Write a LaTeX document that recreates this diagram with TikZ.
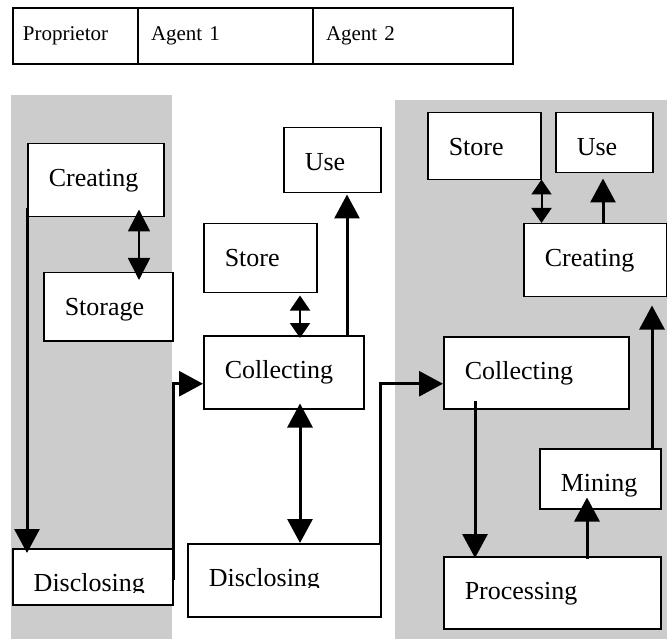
\documentclass[tikz,border=0pt]{standalone}
\usepackage{fontspec}
\setmainfont{Liberation Serif}
\usetikzlibrary{arrows.meta}
\definecolor{panel}{RGB}{204,204,204}
\tikzset{
  box/.style={draw, line width=1.5pt, fill=white, anchor=north west, inner xsep=21pt, inner ysep=0pt, align=left, text height=43pt, font=\fontsize{26}{30}\selectfont},
  hdr/.style={draw, line width=2pt, anchor=north west, inner ysep=0pt, align=left, text height=33pt, text depth=23pt, font=\fontsize{21}{25}\selectfont},
  big/.style={line width=3pt, -{Triangle[width=25pt,length=24pt]}},
  bigboth/.style={line width=3pt, {Triangle[width=25pt,length=24pt]}-{Triangle[width=25pt,length=24pt]}},
  thinboth/.style={line width=1.5pt, {Triangle[width=22pt,length=22pt]}-{Triangle[width=22pt,length=22pt]}},
  smallboth/.style={line width=2pt, {Triangle[width=20pt,length=15pt]}-{Triangle[width=20pt,length=15pt]}}
}
\begin{document}
\begin{tikzpicture}[x=1pt,y=-1pt]
\useasboundingbox (0,0) rectangle (667,639);
% panels
\fill[panel] (11,95) rectangle (172,639);
\fill[panel] (395,100) rectangle (667,639);
% header
\node[hdr, inner xsep=10pt, text width=105pt] (h1) at (12,7) {Proprietor};
\node[hdr, inner xsep=13pt, text width=149pt] (h2) at (137,7) {Agent 1};
\node[hdr, inner xsep=13pt, text width=174pt] (h3) at (312,7) {Agent 2};
% proprietor
\node[box, text width=94pt, text depth=30pt] (cP) at (27,143) {Creating};
\node[box, text width=87pt, text depth=25pt] (sP) at (43,272) {Storage};
\node[box, text width=118pt, text depth=13pt] (dP) at (12,548) {Disclosing};
% agent 1
\node[box, text width=55pt, text depth=22pt] (uA) at (283,127) {Use};
\node[box, text width=71pt, text depth=26pt] (sA) at (203,223) {Store};
\node[box, text width=118pt, text depth=30pt] (colA) at (203,335) {Collecting};
\node[box, text width=151pt, text depth=30pt] (dA) at (187,543) {Disclosing};
% text cut off at the foot of the two Disclosing boxes
\fill[white] ([xshift=2pt,yshift=-45pt]dP.north west) rectangle ([xshift=-2pt,yshift=2pt]dP.south east);
\fill[white] ([xshift=2pt,yshift=-45pt]dA.north west) rectangle ([xshift=-2pt,yshift=2pt]dA.south east);
% agent 2
\node[box, text width=71pt, text depth=24pt] (sB) at (427,112) {Store};
\node[box, text width=55pt, text depth=17pt] (uB) at (555,112) {Use};
\node[box, text width=101pt, text depth=30pt] (cB) at (523,223) {Creating};
\node[box, text width=143pt, text depth=29pt] (colB) at (443,336) {Collecting};
\node[box, text width=79pt, text depth=17pt] (mB) at (539,448) {Mining};
\node[box, text width=175pt, text depth=29pt] (pB) at (443,556) {Processing};
% connectors
\draw[thinboth] ([xshift=112pt,yshift=8pt]cP.south west) -- ([xshift=96pt,yshift=-8pt]sP.north west);
\draw[big] ([yshift=9pt]cP.south west) -- ([xshift=15pt,yshift=-5pt]dP.north west);
\draw[big] ([yshift=-3pt]dP.east) |- ([yshift=-11.5pt]colA.west);
\draw[smallboth] ([xshift=97pt,yshift=-2pt]sA.south west) -- ([xshift=97pt,yshift=-3pt]sA.south west |- colA.north);
\draw[big] ([xshift=64pt]uA.south west |- colA.north) -- ([xshift=64pt,yshift=-1pt]uA.south west);
\draw[bigboth] ([xshift=97pt,yshift=6pt]colA.south west) -- ([xshift=113pt]dA.north west);
\draw[big] ([xshift=-1pt]dA.north east) |- ([yshift=-11pt]colB.west);
\draw[smallboth] ([yshift=1pt]sB.south east) -- (sB.south east |- cB.north);
\draw[big] ([xshift=48pt]uB.south west |- cB.north) -- ([xshift=48pt,yshift=-5pt]uB.south west);
\draw[big] ([xshift=32pt,yshift=9pt]colB.south west) -- ([xshift=32pt,yshift=-2pt]colB.south west |- pB.north);
\draw[big] ([xshift=48pt,yshift=-3pt]mB.south west |- pB.north) -- ([xshift=48pt,yshift=12pt]mB.south west);
\draw[big] ([xshift=113pt]mB.north west) -- ([xshift=113pt,yshift=-8pt]mB.north west |- cB.south);
\end{tikzpicture}
\end{document}
